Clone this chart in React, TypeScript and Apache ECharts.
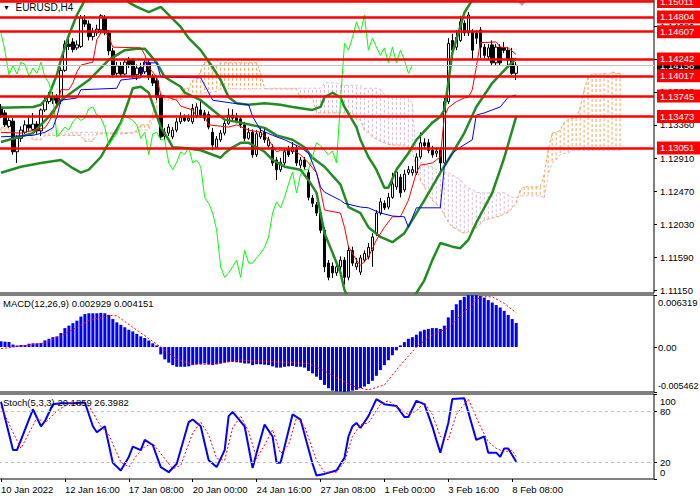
import React, { useEffect, useRef } from 'react';
import * as echarts from 'echarts';

const FONT = '"Liberation Sans", Arial, sans-serif';

// ---------- axes / ticks ----------
const slotCount = 164; // 130 bars + 26 future cloud bars + chart shift
const tickIndex = [0, 16, 32, 48, 64, 80, 96, 112, 128];
const tickLabels = ['10 Jan 2022', '12 Jan 16:00', '17 Jan 08:00', '20 Jan 00:00', '24 Jan 16:00', '27 Jan 08:00', '1 Feb 00:00', '3 Feb 16:00', '8 Feb 08:00'];
const priceTicks = [1.1115, 1.1159, 1.1203, 1.1247, 1.1291, 1.1336, 1.138, 1.1424, 1.1468];
const priceMin = 1.1111;
const priceMax = 1.15031;
const levels = [1.15011, 1.14804, 1.14607, 1.14242, 1.14017, 1.13745, 1.13473, 1.13051];
const bidPrice = 1.14158;
const macdMin = -0.005462;
const macdMax = 0.006319;
const macdTicks = [0.006319, 0, -0.005462];
const stochTicks = [100, 80, 20, 0];
const stochLevels = [80, 20];

// ---------- candles [open, close, low, high] ----------
const candles = [
  [1.1360, 1.1349, 1.1345, 1.1364], [1.1352, 1.1336, 1.1333, 1.1356], [1.1334, 1.1342, 1.1332, 1.1346], [1.1341, 1.1300, 1.1296, 1.1345],
  [1.1300, 1.1318, 1.1285, 1.1322], [1.1318, 1.1329, 1.1313, 1.1334], [1.1326, 1.1336, 1.1324, 1.1342], [1.1336, 1.1332, 1.1328, 1.1348],
  [1.1330, 1.1337, 1.1328, 1.1352], [1.1337, 1.1328, 1.1324, 1.1341], [1.1328, 1.1356, 1.1321, 1.1358], [1.1356, 1.1368, 1.1353, 1.1375],
  [1.1367, 1.1373, 1.1364, 1.1380], [1.1373, 1.1369, 1.1364, 1.1380], [1.1372, 1.1365, 1.1360, 1.1377], [1.1368, 1.1409, 1.1364, 1.1413],
  [1.1409, 1.1444, 1.1407, 1.1449], [1.1444, 1.1441, 1.1436, 1.1452], [1.1447, 1.1437, 1.1433, 1.1452], [1.1439, 1.1443, 1.1436, 1.1449],
  [1.1441, 1.1479, 1.1439, 1.1483], [1.1476, 1.1471, 1.1467, 1.1483], [1.1471, 1.1454, 1.1449, 1.1476], [1.1454, 1.1460, 1.1449, 1.1466],
  [1.1459, 1.1464, 1.1455, 1.1470], [1.1463, 1.1482, 1.1459, 1.1484], [1.1480, 1.1459, 1.1456, 1.1483], [1.1459, 1.1435, 1.1429, 1.1463],
  [1.1435, 1.1403, 1.1399, 1.1439], [1.1405, 1.1415, 1.1401, 1.1420], [1.1415, 1.1404, 1.1400, 1.1420], [1.1404, 1.1420, 1.1401, 1.1423],
  [1.1423, 1.1417, 1.1412, 1.1427], [1.1423, 1.1401, 1.1399, 1.1425], [1.1403, 1.1412, 1.1396, 1.1417], [1.1413, 1.1405, 1.1401, 1.1419],
  [1.1407, 1.1420, 1.1404, 1.1423], [1.1419, 1.1400, 1.1396, 1.1423], [1.1400, 1.1392, 1.1388, 1.1404], [1.1395, 1.1373, 1.1369, 1.1399],
  [1.1375, 1.1320, 1.1316, 1.1377], [1.1321, 1.1326, 1.1316, 1.1332], [1.1325, 1.1333, 1.1321, 1.1337], [1.1320, 1.1329, 1.1317, 1.1333],
  [1.1329, 1.1340, 1.1326, 1.1345], [1.1340, 1.1346, 1.1337, 1.1353], [1.1346, 1.1342, 1.1340, 1.1350], [1.1342, 1.1345, 1.1340, 1.1350],
  [1.1340, 1.1358, 1.1337, 1.1364], [1.1348, 1.1360, 1.1345, 1.1365], [1.1356, 1.1349, 1.1346, 1.1369], [1.1352, 1.1345, 1.1341, 1.1356],
  [1.1350, 1.1333, 1.1330, 1.1354], [1.1326, 1.1309, 1.1302, 1.1332], [1.1306, 1.1317, 1.1304, 1.1321], [1.1316, 1.1325, 1.1313, 1.1329],
  [1.1325, 1.1338, 1.1322, 1.1342], [1.1338, 1.1349, 1.1336, 1.1358], [1.1349, 1.1345, 1.1341, 1.1357], [1.1346, 1.1342, 1.1338, 1.1352],
  [1.1344, 1.1336, 1.1332, 1.1348], [1.1336, 1.1318, 1.1314, 1.1340], [1.1318, 1.1326, 1.1316, 1.1332], [1.1326, 1.1296, 1.1292, 1.1330],
  [1.1296, 1.1324, 1.1293, 1.1329], [1.1320, 1.1326, 1.1317, 1.1334], [1.1326, 1.1316, 1.1312, 1.1332], [1.1308, 1.1316, 1.1305, 1.1320],
  [1.1306, 1.1285, 1.1281, 1.1310], [1.1289, 1.1276, 1.1262, 1.1293], [1.1276, 1.1286, 1.1273, 1.1292], [1.1285, 1.1300, 1.1282, 1.1305],
  [1.1304, 1.1296, 1.1293, 1.1308], [1.1300, 1.1306, 1.1297, 1.1313], [1.1305, 1.1285, 1.1281, 1.1309], [1.1282, 1.1289, 1.1278, 1.1293],
  [1.1289, 1.1280, 1.1276, 1.1293], [1.1272, 1.1239, 1.1235, 1.1276], [1.1238, 1.1231, 1.1226, 1.1242], [1.1229, 1.1218, 1.1214, 1.1233],
  [1.1218, 1.1195, 1.1191, 1.1222], [1.1195, 1.1146, 1.1139, 1.1199], [1.1151, 1.1132, 1.1128, 1.1155], [1.1147, 1.1138, 1.1131, 1.1152],
  [1.1138, 1.1146, 1.1134, 1.1151], [1.1146, 1.1155, 1.1142, 1.1160], [1.1155, 1.1132, 1.1122, 1.1159], [1.1132, 1.1168, 1.1128, 1.1174],
  [1.1168, 1.1151, 1.1147, 1.1173], [1.1146, 1.1151, 1.1142, 1.1158], [1.1139, 1.1158, 1.1135, 1.1162], [1.1155, 1.1164, 1.1152, 1.1168],
  [1.1159, 1.1172, 1.1156, 1.1178], [1.1168, 1.1186, 1.1146, 1.1191], [1.1191, 1.1218, 1.1187, 1.1222], [1.1218, 1.1233, 1.1215, 1.1238],
  [1.1231, 1.1225, 1.1222, 1.1235], [1.1226, 1.1239, 1.1223, 1.1245], [1.1239, 1.1257, 1.1237, 1.1272], [1.1253, 1.1273, 1.1249, 1.1278],
  [1.1266, 1.1245, 1.1239, 1.1270], [1.1249, 1.1270, 1.1246, 1.1276], [1.1272, 1.1276, 1.1269, 1.1281], [1.1272, 1.1276, 1.1268, 1.1281],
  [1.1272, 1.1293, 1.1269, 1.1298], [1.1293, 1.1312, 1.1290, 1.1326], [1.1312, 1.1308, 1.1304, 1.1318], [1.1312, 1.1302, 1.1298, 1.1317],
  [1.1302, 1.1296, 1.1292, 1.1308], [1.1298, 1.1301, 1.1293, 1.1306], [1.1302, 1.1285, 1.1273, 1.1306], [1.1285, 1.1367, 1.1281, 1.1372],
  [1.1367, 1.1445, 1.1364, 1.1452], [1.1449, 1.1436, 1.1432, 1.1458], [1.1440, 1.1453, 1.1436, 1.1463], [1.1449, 1.1474, 1.1447, 1.1482],
  [1.1472, 1.1459, 1.1455, 1.1476], [1.1459, 1.1483, 1.1455, 1.1487], [1.1460, 1.1436, 1.1423, 1.1464], [1.1459, 1.1452, 1.1444, 1.1463],
  [1.1463, 1.1440, 1.1425, 1.1467], [1.1440, 1.1429, 1.1425, 1.1444], [1.1427, 1.1439, 1.1423, 1.1444], [1.1443, 1.1419, 1.1415, 1.1449],
  [1.1419, 1.1440, 1.1415, 1.1444], [1.1440, 1.1419, 1.1415, 1.1444], [1.1439, 1.1436, 1.1432, 1.1447], [1.1436, 1.1423, 1.1415, 1.1440],
  [1.1425, 1.1405, 1.1403, 1.1439], [1.1405, 1.14158, 1.1396, 1.1420],
];

// ---------- Ichimoku ----------
const tenkanPts = [[0, 1.1326], [5, 1.1325], [11, 1.1332], [12, 1.1340], [14, 1.1360], [15, 1.1383], [17, 1.1383], [18, 1.1392], [19, 1.1407], [20, 1.1416], [23, 1.1420], [24, 1.1450], [25, 1.1459], [26, 1.1460], [27, 1.1454], [28, 1.1440], [35, 1.1439], [36, 1.1430], [37, 1.1413], [39, 1.1400], [40, 1.1376], [44, 1.1369], [45, 1.1361], [48, 1.1356], [49, 1.1347], [51, 1.1347], [52, 1.1336], [57, 1.1333], [59, 1.1336], [62, 1.1329], [65, 1.1326], [67, 1.1316], [69, 1.1300], [70, 1.1302], [73, 1.1302], [75, 1.1296], [77, 1.1285], [79, 1.1272], [80, 1.1249], [81, 1.1222], [85, 1.1218], [86, 1.1199], [87, 1.1173], [89, 1.1155], [90, 1.1148], [92, 1.1159], [94, 1.1182], [96, 1.1199], [98, 1.1213], [100, 1.1213], [102, 1.1235], [104, 1.1272], [105, 1.1282], [108, 1.1285], [110, 1.1293], [111, 1.1347], [112, 1.1359], [114, 1.1367], [116, 1.1372], [117, 1.1373], [118, 1.1383], [119, 1.1413], [120, 1.1446], [124, 1.1447], [125, 1.1440], [127, 1.1439], [129, 1.1430]];
const kijunPts = [[0, 1.1320], [8, 1.1322], [11, 1.1326], [13, 1.1332], [14, 1.1347], [15, 1.1369], [19, 1.1372], [20, 1.1383], [29, 1.1385], [30, 1.1396], [35, 1.1399], [36, 1.1419], [39, 1.1419], [40, 1.1400], [50, 1.1399], [52, 1.1379], [53, 1.1369], [58, 1.1365], [62, 1.1363], [63, 1.1347], [65, 1.1329], [68, 1.1322], [71, 1.1316], [75, 1.1306], [77, 1.1298], [79, 1.1272], [80, 1.1253], [81, 1.1246], [85, 1.1235], [86, 1.1231], [90, 1.1226], [92, 1.1225], [95, 1.1218], [98, 1.1214], [101, 1.1213], [102, 1.1199], [104, 1.1225], [110, 1.1225], [111, 1.1280], [113, 1.1298], [115, 1.1306], [118, 1.1316], [119, 1.1349], [121, 1.1352], [123, 1.1356], [125, 1.1360], [127, 1.1373], [129, 1.1376]];
const chikou = [
  1.1459, 1.1435, 1.1403, 1.1415, 1.1404, 1.1420, 1.1417, 1.1401, 1.1412, 1.1405,
  1.1420, 1.1400, 1.1392, 1.1373, 1.1320, 1.1326, 1.1333, 1.1329, 1.1340, 1.1346,
  1.1342, 1.1345, 1.1358, 1.1360, 1.1349, 1.1345, 1.1333, 1.1309, 1.1317, 1.1325,
  1.1338, 1.1349, 1.1345, 1.1342, 1.1336, 1.1318, 1.1326, 1.1296, 1.1324, 1.1326,
  1.1316, 1.1316, 1.1285, 1.1276, 1.1286, 1.1300, 1.1296, 1.1306, 1.1285, 1.1289,
  1.1280, 1.1239, 1.1231, 1.1218, 1.1195, 1.1146, 1.1132, 1.1138, 1.1146, 1.1155,
  1.1132, 1.1168, 1.1151, 1.1151, 1.1158, 1.1164, 1.1172, 1.1186, 1.1218, 1.1233,
  1.1225, 1.1239, 1.1257, 1.1273, 1.1245, 1.1270, 1.1276, 1.1276, 1.1293, 1.1312,
  1.1308, 1.1302, 1.1296, 1.1301, 1.1285, 1.1367, 1.1445, 1.1436, 1.1453, 1.1474,
  1.1459, 1.1483, 1.1436, 1.1452, 1.1440, 1.1429, 1.1439, 1.1419, 1.1440, 1.1419,
  1.1436, 1.1423, 1.1405, 1.1416,
];
// [value, number of consecutive bars]
const spanARuns = [
  [1.1332, 3], [1.1322, 5], [1.1316, 3], [1.1322, 10], [1.1314, 3], [1.1324, 8], [1.1325, 2], [1.1329, 1], [1.1336, 3], [1.1352, 1],
  [1.1369, 1], [1.1373, 6], [1.1385, 2], [1.1396, 2], [1.1409, 1], [1.1420, 2], [1.1407, 1], [1.1415, 1], [1.1419, 10], [1.1405, 1],
  [1.1385, 1], [1.1384, 8], [1.1372, 4], [1.1352, 10], [1.1343, 2], [1.1329, 1], [1.1325, 1], [1.1320, 1], [1.1317, 1], [1.1314, 1],
  [1.1312, 1], [1.1310, 1], [1.1309, 4], [1.1306, 1], [1.1300, 1], [1.1278, 1], [1.1262, 1], [1.1253, 1], [1.1243, 1], [1.1235, 1],
  [1.1230, 1], [1.1226, 1], [1.1215, 1], [1.1206, 1], [1.1199, 1], [1.1197, 1], [1.1193, 1], [1.1191, 1], [1.1193, 1], [1.1195, 1],
  [1.1198, 1], [1.1203, 1], [1.1209, 1], [1.1210, 1], [1.1211, 1], [1.1213, 1], [1.1214, 1], [1.1217, 1], [1.1219, 1], [1.1225, 1],
  [1.1231, 1], [1.1249, 1], [1.1253, 5], [1.1269, 1], [1.1302, 1], [1.1325, 1], [1.1326, 1], [1.1329, 1], [1.1339, 1], [1.1343, 1],
  [1.1345, 2], [1.1359, 1], [1.1383, 1], [1.1400, 1], [1.1404, 3], [1.1405, 1], [1.1403, 1], [1.1407, 1], [1.1405, 2],
];
const spanBRuns = [
  [1.1325, 3], [1.1328, 14], [1.1326, 18], [1.1329, 3], [1.1343, 1], [1.1356, 1], [1.1365, 1], [1.1369, 5], [1.1373, 2], [1.1375, 2],
  [1.1377, 1], [1.1379, 2], [1.1380, 1], [1.1381, 1], [1.1384, 12], [1.1385, 14], [1.1392, 4], [1.1389, 6], [1.1385, 4], [1.1383, 1],
  [1.1377, 1], [1.1375, 1], [1.1373, 4], [1.1372, 1], [1.1365, 1], [1.1292, 1], [1.1286, 1], [1.1284, 1], [1.1281, 1], [1.1280, 1],
  [1.1276, 1], [1.1273, 1], [1.1272, 2], [1.1269, 1], [1.1266, 1], [1.1262, 1], [1.1257, 1], [1.1252, 1], [1.1249, 1], [1.1246, 1],
  [1.1245, 7], [1.1242, 1], [1.1239, 2], [1.1241, 6], [1.1238, 1], [1.1269, 1], [1.1285, 1], [1.1289, 1], [1.1296, 1], [1.1298, 2],
  [1.1302, 13],
];

// ---------- Bollinger bands (key points) ----------
const bbUpperPts = [[0, 1.1359], [8, 1.1360], [10, 1.1363], [12, 1.1376], [14, 1.1403], [15, 1.1423], [17, 1.1456], [19, 1.1483], [21, 1.1503], [23, 1.1530], [26, 1.1550], [29, 1.1537], [31, 1.1510], [32, 1.1500], [34, 1.1494], [37, 1.1487], [40, 1.1494], [45, 1.1467], [47, 1.1452], [50, 1.1436], [53, 1.1413], [55, 1.1396], [57, 1.1373], [59, 1.1365], [62, 1.1363], [66, 1.1365], [70, 1.1363], [73, 1.1360], [78, 1.1356], [80, 1.1360], [81, 1.1373], [83, 1.1379], [85, 1.1373], [86, 1.1360], [89, 1.1333], [90, 1.1316], [92, 1.1293], [94, 1.1276], [96, 1.1252], [97, 1.1252], [99, 1.1276], [102, 1.1298], [104, 1.1316], [108, 1.1339], [110, 1.1347], [111, 1.1356], [112, 1.1392], [113, 1.1432], [115, 1.1467], [116, 1.1486], [118, 1.1503], [120, 1.1523], [125, 1.1543], [129, 1.1557]];
const bbMiddlePts = [[0, 1.1313], [8, 1.1325], [12, 1.1347], [15, 1.1369], [22, 1.1396], [27, 1.1423], [31, 1.1436], [34, 1.1438], [36, 1.1438], [39, 1.1419], [41, 1.1400], [45, 1.1387], [46, 1.1379], [50, 1.1369], [53, 1.1356], [56, 1.1343], [60, 1.1339], [66, 1.1332], [69, 1.1322], [73, 1.1316], [76, 1.1306], [78, 1.1292], [81, 1.1280], [85, 1.1256], [87, 1.1226], [90, 1.1218], [92, 1.1199], [95, 1.1186], [98, 1.1179], [101, 1.1191], [103, 1.1209], [106, 1.1235], [110, 1.1272], [113, 1.1298], [116, 1.1325], [119, 1.1360], [123, 1.1392], [126, 1.1409], [129, 1.1425]];
const bbLowerPts = [[0, 1.1272], [5, 1.1280], [10, 1.1285], [15, 1.1289], [18, 1.1278], [20, 1.1272], [22, 1.1276], [25, 1.1293], [27, 1.1312], [30, 1.1339], [32, 1.1369], [33, 1.1385], [35, 1.1387], [37, 1.1379], [40, 1.1333], [42, 1.1316], [43, 1.1306], [46, 1.1305], [50, 1.1302], [52, 1.1298], [55, 1.1292], [56, 1.1298], [58, 1.1306], [60, 1.1312], [62, 1.1312], [64, 1.1306], [66, 1.1300], [68, 1.1289], [71, 1.1280], [75, 1.1276], [77, 1.1262], [79, 1.1245], [80, 1.1218], [81, 1.1191], [83, 1.1165], [85, 1.1138], [86, 1.1115], [88, 1.1095], [92, 1.1075], [97, 1.1068], [101, 1.1088], [104, 1.1111], [106, 1.1128], [108, 1.1155], [110, 1.1178], [113, 1.1173], [115, 1.1171], [117, 1.1182], [119, 1.1205], [123, 1.1245], [126, 1.1292], [129, 1.1347]];

// ---------- MACD ----------
const macdHist = [
  0.0007, 0.00065, 0.0006, 0.0003, 0.0002, 0.00025, 0.00025, 0.0004, 0.00045, 0.00045,
  0.0005, 0.0008, 0.001, 0.0012, 0.0013, 0.0017, 0.0023, 0.0026, 0.0029, 0.0032,
  0.0037, 0.004, 0.0041, 0.0041, 0.0041, 0.00415, 0.0041, 0.0039, 0.0034, 0.003,
  0.0027, 0.0024, 0.0021, 0.0019, 0.0016, 0.0013, 0.0011, 0.0008, 0.00045, 0.0002,
  -0.0009, -0.0015, -0.0019, -0.0022, -0.0024, -0.0024, -0.0024, -0.00235, -0.0022, -0.0021,
  -0.00205, -0.002, -0.0021, -0.0022, -0.0021, -0.002, -0.0019, -0.0018, -0.0018, -0.00185,
  -0.0019, -0.002, -0.002, -0.0022, -0.0021, -0.0021, -0.00215, -0.0022, -0.00235, -0.0025,
  -0.0025, -0.0024, -0.00235, -0.0023, -0.0024, -0.0024, -0.0025, -0.0029, -0.0032, -0.0036,
  -0.004, -0.0046, -0.005, -0.0053, -0.0054, -0.0054, -0.00545, -0.0054, -0.0053, -0.0052,
  -0.005, -0.0048, -0.0045, -0.0041, -0.0035, -0.0028, -0.0022, -0.0016, -0.001, -0.0004,
  0.0002, 0.0006, 0.001, 0.0012, 0.0015, 0.0019, 0.0021, 0.0022, 0.0023, 0.0023,
  0.0022, 0.0026, 0.0036, 0.0045, 0.0052, 0.0057, 0.0061, 0.0063, 0.0063, 0.0063,
  0.0062, 0.006, 0.0057, 0.0054, 0.0051, 0.0048, 0.0044, 0.0039, 0.0034, 0.002929,
];
const macdSignalPts = [[0, -0.0002], [11, 0.0005], [16, 0.0016], [22, 0.0032], [27, 0.00385], [29, 0.0038], [33, 0.0024], [40, 0], [44, -0.0015], [48, -0.0021], [53, -0.0021], [60, -0.0016], [67, -0.00175], [77, -0.002], [81, -0.0029], [85, -0.004], [89, -0.0049], [92, -0.0052], [96, -0.0046], [100, -0.0022], [104, 0], [108, 0.0015], [112, 0.0023], [116, 0.0043], [120, 0.0061], [123, 0.0061], [126, 0.0053], [129, 0.004151]];

// ---------- Stochastic ----------
const stochKPts = [[0, 91], [3, 34], [4, 34], [8, 82], [10, 62], [11, 68], [13, 88], [15, 89], [18, 89], [21, 90], [23, 62], [24, 55], [26, 62], [28, 19], [30, 10], [32, 26], [33, 38], [35, 34], [36, 46], [38, 40], [40, 14], [42, 8], [44, 18], [47, 67], [48, 70], [50, 62], [52, 22], [54, 14], [56, 34], [57, 74], [58, 79], [61, 62], [63, 13], [64, 31], [66, 64], [68, 50], [69, 19], [70, 19], [73, 76], [75, 70], [78, 18], [79, 4], [81, 6], [84, 10], [86, 25], [87, 50], [88, 62], [89, 66], [90, 60], [92, 74], [94, 94], [96, 88], [99, 86], [101, 73], [102, 73], [104, 92], [106, 88], [108, 62], [109, 46], [110, 31], [112, 66], [113, 94], [116, 95], [119, 46], [121, 50], [122, 31], [124, 31], [125, 26], [126, 36], [127, 36], [129, 20.19]];
const stochDPts = [[0, 85], [3, 55], [5, 36], [9, 72], [11, 66], [14, 80], [17, 89], [22, 86], [25, 62], [27, 52], [30, 20], [32, 14], [34, 28], [36, 38], [38, 42], [41, 24], [43, 12], [45, 16], [48, 54], [50, 67], [52, 52], [54, 24], [56, 22], [58, 60], [60, 74], [62, 56], [64, 24], [66, 40], [68, 58], [70, 30], [72, 40], [74, 72], [76, 62], [79, 22], [81, 8], [84, 8], [86, 20], [88, 50], [90, 64], [92, 66], [95, 88], [97, 92], [100, 82], [102, 76], [104, 80], [106, 90], [108, 76], [110, 50], [112, 46], [114, 76], [117, 94], [120, 62], [122, 44], [124, 36], [126, 32], [128, 34], [129, 26.4]];

function expandRuns(runs: number[][]): number[] {
  const out: number[] = [];
  runs.forEach(([v, n]) => { for (let k = 0; k < n; k++) out.push(v); });
  return out;
}

export default function App() {
  const ref = useRef<HTMLDivElement>(null);

  useEffect(() => {
    if (!ref.current) return;
    const chart = echarts.init(ref.current, null, { renderer: 'svg' });

    const cats = Array.from({ length: slotCount }, (_, i) => String(i));
    const labelAt = new Map<number, string>(tickIndex.map((v, k) => [v, tickLabels[k]]));
    const spanA = expandRuns(spanARuns);
    const spanB = expandRuns(spanBRuns);
    const cloud = spanA.map((a, i) => [i, a, spanB[i]]);
    const stochMinTick = stochTicks[stochTicks.length - 1];
    const stochAxisLabels = stochTicks.filter((v) => v !== stochMinTick);

    const txt = { color: '#000', fontSize: 9.5, fontFamily: FONT };
    const gridBase = { left: -1, right: 46, show: true, borderColor: '#000', borderWidth: 1, backgroundColor: '#fff', containLabel: false, outerBoundsMode: 'none' };
    const line = (data: any, color: string, width: number, extra: any = {}) => ({
      type: 'line', data, showSymbol: false, symbol: 'none', silent: true,
      lineStyle: { color, width, ...(extra.lineStyle || {}) },
      xAxisIndex: extra.xAxisIndex ?? 0, yAxisIndex: extra.yAxisIndex ?? 0,
      z: extra.z ?? 3, ...(extra.markLine ? { markLine: extra.markLine } : {}),
    });
    const shiftMarker = { type: 'polygon', shape: { points: [[516, 0], [528, 0], [522, 6]] }, style: { fill: '#a8a8a8' }, silent: true };

    const option: any = {
      animation: false,
      backgroundColor: '#fff',
      title: [
        { text: '{a|▼}  EURUSD,H4', left: 3, top: 2, padding: 0, textStyle: { ...txt, fontSize: 10, fontWeight: 'normal', rich: { a: { fontSize: 7, color: '#000' } } } },
        { text: 'MACD(12,26,9) 0.002929 0.004151', left: 3, top: 298, padding: 0, textStyle: { ...txt, fontWeight: 'normal' } },
        { text: 'Stoch(5,3,3) 20.1859 26.3982', left: 3, top: 397, padding: 0, textStyle: { ...txt, fontWeight: 'normal' } },
        // bottom tick label of the stochastic scale
        { text: String(stochMinTick), left: 660, top: 467, padding: 0, textStyle: { ...txt, fontWeight: 'normal' } },
      ],
      grid: [
        { ...gridBase, top: 0, height: 293 },
        { ...gridBase, top: 295, height: 97 },
        { ...gridBase, top: 394, height: 85 },
      ],
      xAxis: [
        { type: 'category', gridIndex: 0, data: cats, show: false },
        { type: 'category', gridIndex: 1, data: cats, show: false },
        {
          type: 'category', gridIndex: 2, data: cats,
          axisLine: { show: false },
          axisTick: { show: true, alignWithLabel: true, length: 3, interval: (i: number) => labelAt.has(i), lineStyle: { color: '#000' } },
          axisLabel: { ...txt, interval: (i: number) => labelAt.has(i), align: 'left', margin: 5, formatter: (v: string) => labelAt.get(Number(v)) ?? '' },
          splitLine: { show: false },
        },
      ],
      yAxis: [
        {
          type: 'value', gridIndex: 0, position: 'right', min: priceMin, max: priceMax, scale: true,
          splitLine: { show: false }, axisLine: { show: false },
          axisTick: { show: true, length: 3, customValues: priceTicks, lineStyle: { color: '#000' } },
          axisLabel: { ...txt, margin: 6, hideOverlap: false, customValues: priceTicks, formatter: (v: number) => v.toFixed(5) },
        },
        {
          type: 'value', gridIndex: 1, position: 'right', min: macdMin, max: macdMax,
          splitLine: { show: false }, axisLine: { show: false },
          axisTick: { show: true, length: 3, customValues: macdTicks, lineStyle: { color: '#000' } },
          axisLabel: {
            ...txt, margin: 4, hideOverlap: false, customValues: macdTicks,
            formatter: (v: number) => v === macdMax ? '{t|' + v.toFixed(6) + '}' : v === macdMin ? '{b|' + v.toFixed(6) + '}' : '0.00',
            rich: { t: { ...txt, padding: [14, 0, 0, 0] }, b: { ...txt, fontSize: 9, padding: [0, 0, 12, 0] } },
          },
        },
        {
          type: 'value', gridIndex: 2, position: 'right', min: 0, max: 100,
          splitLine: { show: false }, axisLine: { show: false },
          axisTick: { show: true, length: 3, customValues: stochTicks, lineStyle: { color: '#000' } },
          axisLabel: {
            ...txt, margin: 6, hideOverlap: false, customValues: stochAxisLabels,
            formatter: (v: number) => v === 100 ? '{t|100}' : String(v),
            rich: { t: { ...txt, padding: [14, 0, 0, 0] } },
          },
        },
      ],
      graphic: [shiftMarker],
      series: [
        {
          type: 'custom', xAxisIndex: 0, yAxisIndex: 0, data: cloud, clip: true, silent: true, z: 1,
          encode: { x: 0, y: [1, 2] },
          renderItem: (params: any, api: any) => {
            const i = api.value(0);
            const a = api.value(1);
            const b = api.value(2);
            const p1 = api.coord([i, a]);
            const p2 = api.coord([i, b]);
            return {
              type: 'line',
              shape: { x1: p1[0], y1: p1[1], x2: p2[0], y2: p2[1] },
              style: { stroke: a >= b ? '#f4a460' : '#d8bfd8', lineWidth: 1, lineDash: [3, 2] },
            };
          },
        },
        line(spanA.map((v, i) => [i, v]), '#f4a460', 1, { lineStyle: { type: [3, 2] }, z: 2 }),
        line(spanB.map((v, i) => [i, v]), '#d8bfd8', 1, { lineStyle: { type: [3, 2] }, z: 2 }),
        {
          type: 'candlestick', xAxisIndex: 0, yAxisIndex: 0, data: candles, barWidth: 3, silent: true, z: 2,
          itemStyle: { color: '#ffffff', color0: '#000000', borderColor: '#000000', borderColor0: '#000000', borderWidth: 1 },
        },
        line(bbUpperPts, '#228b22', 2.5),
        line(bbMiddlePts, '#228b22', 2.5),
        line(bbLowerPts, '#228b22', 2.5),
        line(chikou.map((v, i) => [i, v]), '#00ff00', 1),
        line(tenkanPts, '#ff0000', 1),
        line(kijunPts, '#0000ff', 1),
        {
          type: 'line', xAxisIndex: 0, yAxisIndex: 0, data: [], z: 6, silent: true,
          markLine: {
            silent: true, symbol: 'none', precision: 5, animation: false,
            data: [
              {
                name: bidPrice.toFixed(5), yAxis: bidPrice,
                lineStyle: { color: '#c0c0c0', width: 1, type: 'solid' },
                label: { show: true, position: 'end', distance: 3, formatter: '{b}', ...txt, color: '#fff', backgroundColor: '#000', padding: [2, 8, 1, 3] },
              },
              ...levels.map((v) => ({
                name: v.toFixed(5), yAxis: v,
                lineStyle: { color: '#ff0000', width: 2.5, type: 'solid' },
                label: { show: true, position: 'end', distance: 3, formatter: '{b}', ...txt, color: '#fff', backgroundColor: '#ff0000', padding: [2, 8, 1, 3] },
              })),
            ],
          },
        },
        {
          type: 'bar', xAxisIndex: 1, yAxisIndex: 1, data: macdHist, barWidth: 3, silent: true,
          itemStyle: { color: '#0000ff' },
        },
        line(macdSignalPts, '#ff0000', 1, { xAxisIndex: 1, yAxisIndex: 1, lineStyle: { type: [2, 2] } }),
        line(stochKPts, '#0000ff', 2, {
          xAxisIndex: 2, yAxisIndex: 2,
          markLine: {
            silent: true, symbol: 'none', label: { show: false },
            lineStyle: { color: '#c0c0c0', width: 1, type: [3, 3] },
            data: stochLevels.map((v) => ({ yAxis: v })),
          },
        }),
        line(stochDPts, '#ff0000', 1, { xAxisIndex: 2, yAxisIndex: 2, lineStyle: { type: [2, 2] } }),
      ],
    };

    chart.setOption(option);
    return () => chart.dispose();
  }, []);

  return <div ref={ref} style={{ position: 'fixed', left: 0, top: 0, width: 700, height: 500, background: '#fff' }} />;
}
